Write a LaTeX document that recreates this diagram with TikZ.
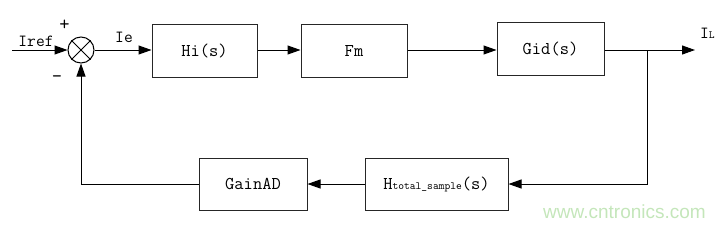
\documentclass[tikz,border=0pt]{standalone}
\usepackage{fontspec}
\usetikzlibrary{arrows.meta,calc}
\newfontfamily\diagfont{Latin Modern Mono}
\newfontfamily\wmfont{Liberation Sans}
\definecolor{wmgreen}{RGB}{196,230,186}
\tikzset{
  blk/.style={draw=black!85, line width=1pt, minimum height=53pt, inner sep=0pt, font=\diagfont\fontsize{18}{20}\selectfont},
  conn/.style={line width=1pt, -{Triangle[length=13pt,width=9pt]}},
  plain/.style={line width=1pt},
  lbl/.style={inner sep=0pt, font=\diagfont\fontsize{17}{20}\selectfont}
}
\begin{document}
\begin{tikzpicture}[x=1pt,y=-1pt]
\useasboundingbox (0,0) rectangle (727,228);
% summing junction
\node[draw, line width=1pt, circle, minimum size=26pt, inner sep=0pt] (sum) at (81,50) {};
\draw[line width=0.9pt] (sum.45) -- (sum.225) (sum.135) -- (sum.315);
% blocks
\node[blk, minimum width=105pt] (hi) at (204.5,51) {Hi(s)};
\node[blk, minimum width=106pt] (fm) at (354,51) {Fm};
\node[blk, minimum width=107pt] (gid) at (550.5,49) {Gid(s)};
\node[blk, minimum width=143pt, minimum height=52pt] (ht) at (436.5,184) {H{\fontsize{11}{12}\selectfont total\_sample}(s)};
\node[blk, minimum width=108pt, minimum height=52pt] (gain) at (253,184) {GainAD};
% coordinates
\coordinate (in) at (12,50);
\coordinate (br) at (647,50);
\coordinate (out) at (695,50);
% connectors
\draw[conn] (in) -- (sum.west);
\draw[conn] (sum.east) -- (sum.east -| hi.west);
\draw[conn] (hi.east |- sum.east) -- (sum.east -| fm.west);
\draw[conn] (fm.east |- sum.east) -- (sum.east -| gid.west);
\draw[plain] (gid.east |- br) -- (br);
\draw[conn] (br) -- (out);
\draw[conn] (br) |- (ht.east);
\draw[conn] (ht.west) -- (gain.east);
\draw[conn] (gain.west) -| (sum.south);
% labels
\node[lbl, anchor=base] (lref) at (36,46) {Iref};
\node[lbl, anchor=base] (lie) at (124,42) {Ie};
\node[lbl, anchor=base west] (lil) at (700,38) {I{\fontsize{11}{12}\selectfont L}};
\node[lbl, font=\diagfont\fontsize{20}{22}\selectfont] (lplus) at (64.5,25) {+};
\node[lbl, font=\diagfont\fontsize{20}{22}\selectfont] (lminus) at (57,79) {–};
% watermark
\node[anchor=base west, inner sep=0pt, text=wmgreen, font=\wmfont\fontsize{19}{20}\selectfont] (wm) at (543,218) {www.cntronics.com};
\end{tikzpicture}
\end{document}
